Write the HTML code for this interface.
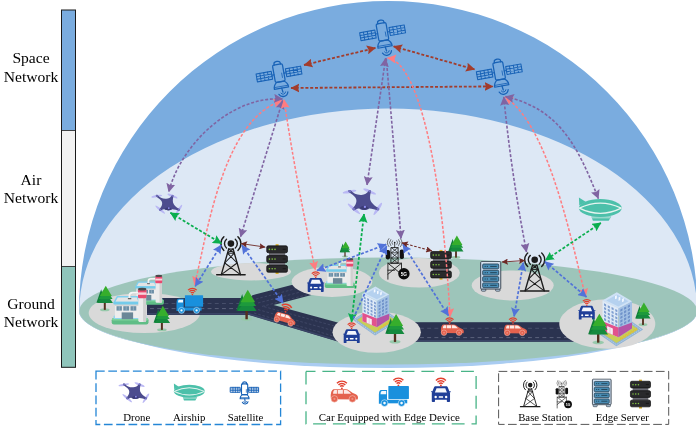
<!DOCTYPE html>
<html>
<head>
<meta charset="utf-8">
<title>Space-Air-Ground Integrated Network</title>
<style>
html,body{margin:0;padding:0;background:#fff;}
body{width:696px;height:429px;overflow:hidden;position:relative;font-family:"Liberation Serif",serif;}
svg{position:absolute;left:0;top:0;display:block;will-change:transform;}
text{font-family:"Liberation Serif",serif;fill:#000;}
.lbl{font-size:15.6px;text-anchor:middle;}
.leg{font-size:10.8px;text-anchor:middle;}
</style>
</head>
<body>
<svg width="696" height="429" viewBox="0 0 696 429">
<defs>
<!-- arrow heads -->
<marker id="ah-r" viewBox="0 0 10 10" refX="9.4" refY="5" markerWidth="9" markerHeight="9.2" markerUnits="userSpaceOnUse" orient="auto-start-reverse"><path d="M0,0 L10,5 L0,10 L1.6,5 Z" fill="#a23c2c"/></marker>
<marker id="ah-p" viewBox="0 0 10 10" refX="9.4" refY="5" markerWidth="9" markerHeight="9.2" markerUnits="userSpaceOnUse" orient="auto-start-reverse"><path d="M0,0 L10,5 L0,10 L1.6,5 Z" fill="#8064a2"/></marker>
<marker id="ah-k" viewBox="0 0 10 10" refX="9.4" refY="5" markerWidth="9" markerHeight="9.2" markerUnits="userSpaceOnUse" orient="auto-start-reverse"><path d="M0,0 L10,5 L0,10 L1.6,5 Z" fill="#ff7c80"/></marker>
<marker id="ah-g" viewBox="0 0 10 10" refX="9.4" refY="5" markerWidth="9" markerHeight="9.2" markerUnits="userSpaceOnUse" orient="auto-start-reverse"><path d="M0,0 L10,5 L0,10 L1.6,5 Z" fill="#0aae4e"/></marker>
<marker id="ah-b" viewBox="0 0 10 10" refX="9.4" refY="5" markerWidth="9" markerHeight="9.2" markerUnits="userSpaceOnUse" orient="auto-start-reverse"><path d="M0,0 L10,5 L0,10 L1.6,5 Z" fill="#5172d9"/></marker>
<marker id="ah-d" viewBox="0 0 10 10" refX="9.4" refY="5" markerWidth="6.8" markerHeight="6.2" markerUnits="userSpaceOnUse" orient="auto-start-reverse"><path d="M0,0 L10,5 L0,10 L1.6,5 Z" fill="#6e2a26"/></marker>

<!-- satellite : origin = body centre -->
<g id="sat" fill="none" stroke="#1862b6" stroke-width="1.25" stroke-linejoin="round" stroke-linecap="round">
  <path d="M-3.2,-10.2 V-11.4 Q-3.2,-13.4 0,-13.4 Q3.2,-13.4 3.2,-11.4 V-10.2"/>
  <rect x="-5" y="-10.2" width="10" height="17.4" rx="1.4"/>
  <line x1="2.8" y1="-1" x2="2.8" y2="3.4" stroke-width="0.8"/>
  <g stroke-width="1.05">
    <rect x="-22.6" y="-4.6" width="15.4" height="8"/>
    <path d="M-18.8,-4.6v8M-14.9,-4.6v8M-11,-4.6v8M-22.6,-1.9h15.4M-22.6,0.7h15.4" stroke-width="0.95"/>
    <line x1="-7.2" y1="-0.6" x2="-5" y2="-0.6"/>
    <rect x="7.2" y="-4.6" width="15.4" height="8"/>
    <path d="M11,-4.6v8M14.9,-4.6v8M18.8,-4.6v8M7.2,-1.9h15.4M7.2,0.7h15.4" stroke-width="0.95"/>
    <line x1="5" y1="-0.6" x2="7.2" y2="-0.6"/>
  </g>
  <path d="M-3.8,7.2 C-6,8.8 -7.2,11.2 -7.2,13.8 L7.2,13.8 C7.2,11.2 6,8.8 3.8,7.2 Z"/>
  <line x1="-7" y1="12" x2="7" y2="12" stroke-width="0.8"/>
  <line x1="0.2" y1="13.8" x2="0.8" y2="18"/>
  <path d="M-1.4,18.6 A2.6,2.6 0 0 0 3.4,18.2" stroke-width="0.9"/>
  <path d="M-3.6,19.4 A4.9,4.9 0 0 0 5.6,18.6" stroke-width="1.25"/>
</g>
<g id="sat-s" fill="none" stroke="#1862b6" stroke-width="1.81" stroke-linejoin="round" stroke-linecap="round">
  <path d="M-3.2,-10.2 V-11.4 Q-3.2,-13.4 0,-13.4 Q3.2,-13.4 3.2,-11.4 V-10.2"/>
  <rect x="-5" y="-10.2" width="10" height="17.4" rx="1.4"/>
  <line x1="2.8" y1="-1" x2="2.8" y2="3.4" stroke-width="1.16"/>
  <g stroke-width="1.52">
    <rect x="-22.6" y="-4.6" width="15.4" height="8"/>
    <path d="M-18.8,-4.6v8M-14.9,-4.6v8M-11,-4.6v8M-22.6,-1.9h15.4M-22.6,0.7h15.4" stroke-width="1.38"/>
    <line x1="-7.2" y1="-0.6" x2="-5" y2="-0.6"/>
    <rect x="7.2" y="-4.6" width="15.4" height="8"/>
    <path d="M11,-4.6v8M14.9,-4.6v8M18.8,-4.6v8M7.2,-1.9h15.4M7.2,0.7h15.4" stroke-width="1.38"/>
    <line x1="5" y1="-0.6" x2="7.2" y2="-0.6"/>
  </g>
  <path d="M-3.8,7.2 C-6,8.8 -7.2,11.2 -7.2,13.8 L7.2,13.8 C7.2,11.2 6,8.8 3.8,7.2 Z"/>
  <line x1="-7" y1="12" x2="7" y2="12" stroke-width="1.16"/>
  <line x1="0.2" y1="13.8" x2="0.8" y2="18"/>
  <path d="M-1.4,18.6 A2.6,2.6 0 0 0 3.4,18.2" stroke-width="1.30"/>
  <path d="M-3.6,19.4 A4.9,4.9 0 0 0 5.6,18.6" stroke-width="1.81"/>
</g>

<!-- drone : origin = centre -->
<g id="drone">
  <g fill="#b7b4f4" opacity="0.92">
    <ellipse cx="-14.4" cy="-10" rx="7" ry="1.45" transform="rotate(-10 -14.4 -10)"/>
    <ellipse cx="5.7" cy="-10.2" rx="7" ry="1.45" transform="rotate(23 5.7 -10.2)"/>
    <ellipse cx="-10" cy="7.2" rx="8" ry="1.5" transform="rotate(40 -10 7.2)"/>
    <ellipse cx="13.9" cy="7.2" rx="7.4" ry="1.5" transform="rotate(-56 13.9 7.2)"/>
  </g>
  <path fill="#4c4c8e" d="M-15.6,-10.6 C-15.8,-11.9 -13.8,-12.1 -13,-11.1 C-10.6,-8.2 -7.4,-6.6 -2.4,-6.8 C0.8,-6.8 3.2,-8.2 4.6,-10.6 C5.2,-12 7.2,-11.8 7,-10.2 C6.2,-6.4 5.4,-2.6 7.6,0.6 C9.4,3.2 12.4,5.2 14.6,6.2 C16,7 15.4,8.8 13.8,8.6 C11,8.2 8,6.6 5,6.8 C4,8.6 -2,9 -4.6,6.8 C-6.4,6.4 -8,7.6 -9.2,8.4 C-10.6,9.2 -11.8,8 -11,6.6 C-8.2,3.4 -6.2,-0.6 -8.4,-4 C-9.8,-6 -12.6,-8 -14.8,-9.4 C-15.4,-9.8 -15.6,-10.2 -15.6,-10.6 Z"/>
  <circle cx="-14.2" cy="-10.4" r="1.2" fill="#7876c4"/>
  <circle cx="5.8" cy="-10.6" r="1.2" fill="#7876c4"/>
  <circle cx="-10.2" cy="7.4" r="1.3" fill="#7876c4"/>
  <circle cx="14" cy="7.4" r="1.3" fill="#7876c4"/>
  <path d="M-4.4,6.4 Q0.4,1.6 5,6.6 Q0.4,9.4 -4.4,6.4Z" fill="#3b3b76"/>
  <circle cx="1" cy="5.2" r="1.15" fill="#8f8df0"/>
</g>

<!-- airship : origin = envelope centre -->
<g id="airship">
  <path d="M-21.4,-10.6 L-14.6,-6.2 L-21,-2.6 Z" fill="#4cc0aa"/>
  <ellipse cx="0" cy="0" rx="21.4" ry="9" fill="#4cc0aa"/>
  <path d="M-21,0.2 Q0,-10 21,0.2" fill="none" stroke="#e6f4f0" stroke-width="1.4"/>
  <path d="M-21,0.2 Q0,10.6 21,0.2" fill="none" stroke="#e6f4f0" stroke-width="1.4"/>
  <path d="M-9,8.4 L11,8.4 L8.4,12.8 L-7.4,12.8 Z" fill="#4cc0aa"/>
  <path d="M-8.6,9.8 H10.2" stroke="#e6f4f0" stroke-width="0.7" fill="none"/>
</g>

<!-- base station tower : origin = base centre -->
<g id="tower" fill="none" stroke="#1c1c1c" stroke-linecap="round" stroke-linejoin="round">
  <circle cx="0" cy="-31" r="3.3" fill="#1c1c1c" stroke="none"/>
  <path d="M-4.4,-35.4 A5.8,5.8 0 0 0 -4.4,-26.6" stroke-width="1.4"/>
  <path d="M4.4,-35.4 A5.8,5.8 0 0 1 4.4,-26.6" stroke-width="1.4"/>
  <path d="M-7,-37.8 A9.2,9.2 0 0 0 -7,-24.2" stroke-width="1.4"/>
  <path d="M7,-37.8 A9.2,9.2 0 0 1 7,-24.2" stroke-width="1.4"/>
  <path d="M-2.2,-25.6 L-9.6,0 M2.2,-25.6 L9.6,0" stroke-width="1.35"/>
  <path d="M-2.2,-25.6 L2.2,-25.6 M-3.4,-21.4 L3.4,-21.4" stroke-width="1"/>
  <path d="M-3.4,-21.4 L6.2,-11.6 M3.4,-21.4 L-6.2,-11.6 M-6.2,-11.6 L9.6,0 M6.2,-11.6 L-9.6,0 M-2.2,-25.6 L3.4,-21.4 M2.2,-25.6 L-3.4,-21.4" stroke-width="1.05"/>
  <line x1="-14.2" y1="0.2" x2="14.2" y2="0.2" stroke-width="1.5"/>
</g>

<!-- 5G tower : origin = mast centre / bottom -->
<g id="tower5g" fill="none" stroke="#1c1c1c" stroke-linecap="round" stroke-linejoin="round">
  <line x1="0" y1="-36" x2="0" y2="-31.6" stroke-width="0.8"/>
  <circle cx="0" cy="-36.6" r="0.8" fill="#1c1c1c" stroke="none"/>
  <path d="M-2.2,-38.4 A2.8,2.8 0 0 0 -2.2,-34.8 M2.2,-38.4 A2.8,2.8 0 0 1 2.2,-34.8" stroke-width="0.6"/>
  <path d="M-4,-39.6 A4.6,4.6 0 0 0 -4,-33.6 M4,-39.6 A4.6,4.6 0 0 1 4,-33.6" stroke-width="0.6"/>
  <path d="M-5.8,-40.6 A6.4,6.4 0 0 0 -5.8,-32.6 M5.8,-40.6 A6.4,6.4 0 0 1 5.8,-32.6" stroke-width="0.6"/>
  <rect x="-3.4" y="-31.6" width="6.8" height="15.6" stroke-width="0.9"/>
  <path d="M-3.4,-31.6 L3.4,-26.4 L-3.4,-21.2 L3.4,-16 M3.4,-31.6 L-3.4,-26.4 L3.4,-21.2 L-3.4,-16 M-3.4,-26.4 H3.4 M-3.4,-21.2 H3.4" stroke-width="0.75"/>
  <rect x="-9" y="-29.2" width="4.4" height="9.4" rx="1.8" fill="#111" stroke="none"/>
  <rect x="5" y="-29.6" width="4.2" height="9.4" rx="1.8" fill="#111" stroke="none"/>
  <path d="M-6.8,0 V-16 H6.8 V-8 M-6.8,-16 L6.8,-5 M6.8,-16 L-6.8,-5 M-6.8,-9 H0" stroke-width="0.9"/>
  <circle cx="9.2" cy="-5.4" r="5.7" fill="#0d0d0d" stroke="none"/>
</g>

<!-- black edge server : origin = top-left, 21.4 x 27.2 -->
<g id="srvk">
  <rect x="9.2" y="-1.3" width="3" height="2" fill="#d6ad28"/>
  <rect x="9.2" y="26.5" width="3" height="2" fill="#d6ad28"/>
  <rect x="2.6" y="7" width="16.2" height="13" fill="#6b6b73"/>
  <g fill="#2a2a2c" stroke="#0c0c0c" stroke-width="0.7">
    <rect x="0.35" y="0.35" width="20.7" height="6.9" rx="1.5"/>
    <rect x="0.35" y="10.1" width="20.7" height="6.9" rx="1.5"/>
    <rect x="0.35" y="19.85" width="20.7" height="6.9" rx="1.5"/>
  </g>
  <g fill="#80c342">
    <circle cx="3" cy="3.9" r="0.8"/><circle cx="5.8" cy="3.9" r="0.8"/><circle cx="8.6" cy="3.9" r="0.8"/>
    <circle cx="3" cy="13.6" r="0.8"/><circle cx="5.8" cy="13.6" r="0.8"/><circle cx="8.6" cy="13.6" r="0.8"/>
    <circle cx="3" cy="23.3" r="0.8"/><circle cx="5.8" cy="23.3" r="0.8"/><circle cx="8.6" cy="23.3" r="0.8"/>
  </g>
  <path d="M16.2,3.8h3.2M16.2,13.5h3.2M16.2,23.2h3.2" stroke="#141414" stroke-width="0.8" fill="none"/>
</g>

<!-- blue edge server : origin = top-left, 21.2 x 30.3 -->
<g id="srvb">
  <rect x="1.2" y="27.6" width="4.4" height="2.4" rx="0.8" fill="#b7cde0" stroke="#2f3a46" stroke-width="0.7"/>
  <rect x="15.4" y="27.6" width="4.4" height="2.4" rx="0.8" fill="#b7cde0" stroke="#2f3a46" stroke-width="0.7"/>
  <rect x="0.45" y="0.45" width="20.1" height="27.4" rx="0.8" fill="#c8dbed" stroke="#2f3a46" stroke-width="0.9"/>
  <path d="M1.6,1.5 H19.4" stroke="#f2f8fd" stroke-width="0.7" fill="none"/>
  <g fill="#4a8eb6" stroke="#1f3a4c" stroke-width="0.8">
    <rect x="2.5" y="2.8" width="16" height="4.8" rx="1"/>
    <rect x="2.5" y="9.1" width="16" height="4.8" rx="1"/>
    <rect x="2.5" y="15.4" width="16" height="4.8" rx="1"/>
    <rect x="2.5" y="21.7" width="16" height="4.8" rx="1"/>
  </g>
  <path d="M4.4,5.2h1.2M6.6,5.2h1.2M10,5.2h6.6M4.4,11.5h1.2M6.6,11.5h1.2M10,11.5h6.6M4.4,17.8h1.2M6.6,17.8h1.2M10,17.8h6.6M4.4,24.1h1.2M6.6,24.1h1.2M10,24.1h6.6" stroke="#17303f" stroke-width="0.8" fill="none"/>
</g>

<!-- wifi : origin = dot -->
<g id="wifi" fill="none" stroke="#e23f2e" stroke-width="1.15" stroke-linecap="butt">
  <circle cx="0" cy="-0.2" r="0.75" fill="#e23f2e" stroke="none"/>
  <path d="M-1.45,-1.6 A2,2 0 0 1 1.45,-1.6"/>
  <path d="M-2.7,-2.9 A3.7,3.7 0 0 1 2.7,-2.9"/>
  <path d="M-3.95,-4.2 A5.4,5.4 0 0 1 3.95,-4.2"/>
</g>

<!-- red side car : origin = centre, 23.4 x 12.3 -->
<g id="carr">
  <path fill="#e4624e" d="M-11.1,3.5 C-11.5,1.5 -11.5,-0.5 -11.2,-1.5 C-11,-3 -10.4,-4.4 -9.2,-5 L1.4,-5 C3.2,-5 5,-3.4 6.8,-2 L10,-0.6 C11.2,0 11.6,1.2 11.5,2.4 L11.2,3.6 Z"/>
  <path fill="#fdeae6" d="M-9.4,-1.3 C-9.4,-2.8 -9,-4 -8.2,-4.3 L-6.2,-4.3 L-6.2,-1.3 Z M-5.5,-4.3 L-1.2,-4.3 L-1.2,-1.3 L-5.5,-1.3 Z M-0.4,-4.3 L1.4,-4.3 C2.8,-4.2 4.4,-2.8 5.7,-1.3 L-0.4,-1.3 Z"/>
  <circle cx="-8.3" cy="3.1" r="2.75" fill="#e4624e" stroke="#f7cfc7" stroke-width="0.45"/>
  <circle cx="6.8" cy="3.1" r="2.75" fill="#e4624e" stroke="#f7cfc7" stroke-width="0.45"/>
  <circle cx="-8.3" cy="3.1" r="0.9" fill="#ee8d7e"/>
  <circle cx="6.8" cy="3.1" r="0.9" fill="#ee8d7e"/>
</g>

<!-- truck : origin = top-left of bounding box, 27 x 18.6 -->
<g id="truck">
  <rect x="8.9" y="0.3" width="18.2" height="11.5" rx="0.4" fill="#1990dd"/>
  <path fill="#1990dd" d="M2.6,3.7 H7.7 V16 H0.5 V8 C0.5,5.4 1.2,3.7 2.6,3.7 Z"/>
  <path fill="#f3f9fe" d="M3,4.7 H7 V7.5 H2 C2,6 2.4,5 3,4.7 Z"/>
  <path fill="#1990dd" d="M7.6,12.4 H25.6 V15.6 H7.6 Z"/>
  <circle cx="5.5" cy="15.4" r="3" fill="#1990dd" stroke="#ffffff" stroke-width="0.45"/>
  <circle cx="20.6" cy="15.4" r="3" fill="#1990dd" stroke="#ffffff" stroke-width="0.45"/>
  <circle cx="5.5" cy="15.4" r="1.15" fill="#f3f9fe"/>
  <circle cx="20.6" cy="15.4" r="1.15" fill="#f3f9fe"/>
</g>

<!-- blue front car : origin = top-left, 17.2 x 14 -->
<g id="carb">
  <path fill="#1f3e98" d="M3.9,0 H13.3 C14,0 14.4,0.4 14.6,1 L16,4.5 H17.2 V5.4 H16.3 L16.6,6.2 V13.2 C16.6,13.7 16.3,13.9 15.9,13.9 H14.4 C14,13.9 13.8,13.6 13.8,13.2 V11.9 H3.4 V13.2 C3.4,13.6 3.2,13.9 2.8,13.9 H1.3 C0.9,13.9 0.6,13.7 0.6,13.2 V6.2 L0.9,5.4 H0 V4.5 H1.2 L2.6,1 C2.8,0.4 3.2,0 3.9,0 Z"/>
  <path fill="#f4f6fc" d="M4.8,1.7 H12.4 L13.9,5.6 H3.3 Z"/>
  <circle cx="4" cy="9.5" r="1.05" fill="#fff"/>
  <circle cx="13.2" cy="9.5" r="1.05" fill="#fff"/>
  <rect x="6.7" y="8.8" width="3.8" height="1.4" rx="0.3" fill="#fff"/>
</g>

<!-- tree : origin = trunk bottom centre, approx 16 x 26 -->
<g id="tree">
  <ellipse cx="0" cy="0.2" rx="5" ry="1.6" fill="#97c9ab"/>
  <rect x="-1.05" y="-8" width="2.1" height="8.4" fill="#54301f"/>
  <path d="M-3.8,-21.4 L-8.8,-7 H0 Z" fill="#0f7d38"/>
  <path d="M1,-18 L-7.8,-6.8 H8.6 Z" fill="#158a3e"/>
  <path d="M1,-22 L-6.6,-11 H8.2 Z" fill="#1d9a3c"/>
  <path d="M1,-25 L-5.2,-14.2 H7.4 Z" fill="#36ae2c"/>
</g>

<!-- factory : origin = base left-bottom, approx 36 x 36 -->
<g id="factory">
  <rect x="0.2" y="-6.4" width="36.8" height="6.4" rx="2.2" fill="#5fbd86"/>
  <rect x="0.6" y="-6.4" width="36" height="2.4" rx="1.2" fill="#7fd39c"/>
  <rect x="2" y="-8.8" width="33" height="3.4" rx="1.2" fill="#8fd6ee"/>
  <rect x="3.4" y="-21.4" width="24.6" height="15" fill="#ededed"/>
  <rect x="3.4" y="-21.4" width="24.6" height="3" fill="#d4d4d4"/>
  <path d="M2.6,-21.8 L5.8,-27.6 H25.8 L28,-21.8 Z" fill="#e4e4e4" stroke="#80d0ee" stroke-width="1.5" stroke-linejoin="round"/>
  <rect x="1.9" y="-22.6" width="26.8" height="2.8" rx="0.8" fill="#74cbea"/>
  <g fill="#6d8fa6">
    <rect x="5" y="-18.2" width="5.4" height="4.4"/><rect x="11.8" y="-18.2" width="5.8" height="4.4"/><rect x="19" y="-18.2" width="5.8" height="4.4"/>
  </g>
  <path d="M7.7,-18.2v4.4M14.7,-18.2v4.4M21.9,-18.2v4.4" stroke="#a9c3d3" stroke-width="0.6"/>
  <rect x="10.2" y="-12" width="11.4" height="6.8" fill="#6b8797"/>
  <path d="M18,-25.6 V-29 Q18,-31.6 21,-31.6 H27" fill="none" stroke="#f6f6f6" stroke-width="1.9"/>
  <path d="M18,-25.6 V-29 Q18,-31.6 21,-31.6 H27" fill="none" stroke="#cfcfcf" stroke-width="0.5" transform="translate(0.9 0.9)"/>
  <rect x="16.4" y="-26.2" width="3.4" height="1" fill="#444"/>
  <rect x="26.8" y="-34.6" width="7.8" height="32.2" rx="1.4" fill="#ebebeb"/>
  <rect x="31.6" y="-34.6" width="3" height="32.2" rx="1" fill="#d0d0d0"/>
  <rect x="26.5" y="-35.2" width="8.4" height="9" rx="1.2" fill="#e9496f"/>
  <rect x="26.5" y="-32" width="8.4" height="2.4" fill="#f9d3db"/>
  <ellipse cx="30.7" cy="-35.2" rx="4.2" ry="1.4" fill="#4a4a4a"/>
</g>

<!-- office building : origin = roof top corner, approx 39 wide x 50 tall -->
<g id="bldg">
  <path d="M-22.7,33.4 L1.7,18.2 L24,33.8 L-0.4,49 Z" fill="#8fb3d6"/>
  <path d="M-20.6,33.4 L1.7,19.6 L21.8,33.8 L-0.4,47.6 Z" fill="none" stroke="#d7e4f0" stroke-width="0.6" stroke-dasharray="1.2 1"/>
  <path d="M-18.4,33.5 L1.7,21 L19.6,33.8 L-0.4,46.2 Z" fill="#c8ce58"/>
  <path d="M-13,7.4 L1.4,14.6 L1.4,40.9 L-13,34.8 Z" fill="#dfeaf7"/>
  <path d="M1.4,14.6 L13.8,8.2 L13.8,32.8 L1.4,40.9 Z" fill="#a3c1e4"/>
  <path d="M-13,26.4 L1.4,32.1 L1.4,40.9 L-13,34.8 Z" fill="#e2528c"/>
  <path d="M1.4,32.1 L13.8,27.4 L13.8,32.8 L1.4,40.9 Z" fill="#b554a6"/>
  <path d="M-8.8,30.6 L-3.6,32.8 L-3.6,38.6 L-8.8,36.4 Z" fill="#f6ecf3"/>
  <path d="M-6.2,31.7 L-6.2,37.5" stroke="#d9a9c6" stroke-width="0.5"/>
  <path d="M0,0 L13.8,8.2 L1.4,14.6 L-13,7.4 Z" fill="#cfe2f6"/>
  <path d="M0.2,2 L10.6,8.2 L1.4,12.8 L-9.6,7.4 Z" fill="#b5d1ef"/>
  <path d="M-1.6,6.4 L-1.6,3.4 L0,2.6 L0,5.6 Z M1.6,7.8 L1.6,4.8 L3.2,4 L3.2,7 Z M4.8,9 L4.8,6 L6.4,5.2 L6.4,8.2 Z" fill="#f4f9ff"/>
  <path d="M-11.6,10.0 L-9.7,11.0 L-9.7,13.1 L-11.6,12.1 Z M-11.6,13.3 L-9.7,14.2 L-9.7,16.4 L-11.6,15.4 Z M-11.6,16.6 L-9.7,17.6 L-9.7,19.7 L-11.6,18.7 Z M-11.6,19.9 L-9.7,20.8 L-9.7,22.9 L-11.6,22.0 Z M-11.6,23.2 L-9.7,24.2 L-9.7,26.3 L-11.6,25.3 Z M-8.2,11.7 L-6.3,12.7 L-6.3,14.8 L-8.2,13.8 Z M-8.2,15.0 L-6.3,15.9 L-6.3,18.1 L-8.2,17.1 Z M-8.2,18.3 L-6.3,19.2 L-6.3,21.4 L-8.2,20.4 Z M-8.2,21.6 L-6.3,22.6 L-6.3,24.7 L-8.2,23.7 Z M-8.2,24.9 L-6.3,25.8 L-6.3,27.9 L-8.2,27.0 Z M-4.8,13.4 L-2.9,14.3 L-2.9,16.4 L-4.8,15.5 Z M-4.8,16.7 L-2.9,17.6 L-2.9,19.8 L-4.8,18.8 Z M-4.8,20.0 L-2.9,20.9 L-2.9,23.1 L-4.8,22.1 Z M-4.8,23.3 L-2.9,24.2 L-2.9,26.3 L-4.8,25.4 Z M-4.8,26.6 L-2.9,27.6 L-2.9,29.7 L-4.8,28.7 Z M-1.4,15.1 L0.5,16.1 L0.5,18.2 L-1.4,17.2 Z M-1.4,18.4 L0.5,19.3 L0.5,21.4 L-1.4,20.5 Z M-1.4,21.7 L0.5,22.6 L0.5,24.8 L-1.4,23.8 Z M-1.4,25.0 L0.5,25.9 L0.5,28.1 L-1.4,27.1 Z M-1.4,28.3 L0.5,29.2 L0.5,31.3 L-1.4,30.4 Z" fill="#7d9dd0"/>
  <path d="M3.2,15.6 L5.2,14.5 L5.2,16.6 L3.2,17.7 Z M3.2,18.9 L5.2,17.8 L5.2,19.9 L3.2,21.0 Z M3.2,22.2 L5.2,21.1 L5.2,23.2 L3.2,24.3 Z M3.2,25.5 L5.2,24.4 L5.2,26.5 L3.2,27.6 Z M3.2,28.8 L5.2,27.7 L5.2,29.8 L3.2,30.9 Z M6.6,13.8 L8.6,12.8 L8.6,14.9 L6.6,15.9 Z M6.6,17.1 L8.6,16.1 L8.6,18.2 L6.6,19.2 Z M6.6,20.4 L8.6,19.4 L8.6,21.5 L6.6,22.5 Z M6.6,23.7 L8.6,22.7 L8.6,24.8 L6.6,25.8 Z M6.6,27.0 L8.6,26.0 L8.6,28.1 L6.6,29.1 Z M10.0,12.1 L12.0,11.0 L12.0,13.1 L10.0,14.2 Z M10.0,15.4 L12.0,14.3 L12.0,16.4 L10.0,17.5 Z M10.0,18.7 L12.0,17.6 L12.0,19.7 L10.0,20.8 Z M10.0,22.0 L12.0,20.9 L12.0,23.0 L10.0,24.1 Z M10.0,25.3 L12.0,24.2 L12.0,26.3 L10.0,27.4 Z" fill="#6f92ca"/>
  <path d="M2.6,44 l1.2,-3 l1.2,1.5 l1.2,-3 l1.2,1.5 l1.2,-3 l1.2,1.5 l1.2,-3 l1.2,1.5 l1.2,-3 l1.2,1.5 l1.2,-3 l1.2,1.5 l1.2,-3" stroke="#e3bb34" stroke-width="0.8" fill="none"/>
</g>

</defs>

<!-- ===== side bar ===== -->
<g id="sidebar">
  <rect x="61.5" y="10" width="14" height="120.5" fill="#7aacdf"/>
  <rect x="61.5" y="130.5" width="14" height="136" fill="#f2f2f2"/>
  <rect x="61.5" y="266.5" width="14" height="100.8" fill="#8fc5bb"/>
  <rect x="61.5" y="10" width="14" height="357.3" fill="none" stroke="#1a1a1a" stroke-width="1"/>
  <line x1="61.5" y1="130.5" x2="75.5" y2="130.5" stroke="#1a1a1a" stroke-width="0.8"/>
  <line x1="61.5" y1="266.5" x2="75.5" y2="266.5" stroke="#1a1a1a" stroke-width="0.8"/>
</g>
<text class="lbl" x="31" y="63.3">Space</text>
<text class="lbl" x="31" y="81.6">Network</text>
<text class="lbl" x="31" y="185">Air</text>
<text class="lbl" x="31" y="202.9">Network</text>
<text class="lbl" x="31" y="308.7">Ground</text>
<text class="lbl" x="31" y="327.1">Network</text>

<!-- ===== dome ===== -->
<g id="dome">
  <path d="M79,311 A309.25,310 0 0 1 697.5,311 A309.25,54 0 0 1 79,311 Z" fill="#7aacdf"/>
  <path d="M79.3,311 A308.95,202.5 0 0 1 697.2,311 A308.95,54.2 0 0 1 79.3,311 Z" fill="#dde8f5"/>
  <path d="M88.25,311 A300,57 0 0 0 688.25,311 Z" fill="#a9ccf1"/>
  <ellipse cx="388.25" cy="311" rx="308.9" ry="53.6" fill="#9dc5ba"/>
</g>

<!-- ===== ground ===== -->
<g id="islands-back"><ellipse cx="144.4" cy="313" rx="55.7" ry="20" fill="#d9d9d9"/></g>

<g id="roads">
  <path d="M147,298 L250,298 L252.4,295.2 L291.6,285 L324,283 L324,291.8 L273.6,305 L345,324.4 L341,342.6 L249,314.9 L147,314.9 Z" fill="#2b3350"/>
  <rect x="404" y="322.2" width="182" height="19.6" fill="#2b3350"/>
  <path d="M147,313.9 H249 L341,341.6 M404,340.8 H586" stroke="#3a4466" stroke-width="1.6" fill="none"/>
  <g fill="none" stroke-width="0.55" stroke-dasharray="3.9 3.3">
    <path d="M150,303.5 H250 M420,328.3 H586" stroke="#5d6580"/>
    <path d="M150,308.6 H250 M420,337.6 H586" stroke="#8289a2"/>
    <path d="M256,299 L300,287.6 M258,303 L306,290.6 M262,306.4 L310,294" stroke-dasharray="2.6 1.8" stroke="#4f5775"/>
    <path d="M264,306.6 L340,327.6 M258,309.6 L340,332.6 M254,313 L340,338" stroke-dasharray="2.6 1.8" stroke="#4f5775"/>
  </g>
</g>
<g id="islands"><ellipse cx="251" cy="271.7" rx="40" ry="8.7" fill="#d9d9d9"/><ellipse cx="332" cy="281.8" rx="40.4" ry="15.1" fill="#d9d9d9"/><ellipse cx="419.3" cy="272.8" rx="40.5" ry="14.8" fill="#d9d9d9"/><ellipse cx="512.7" cy="285.5" rx="41" ry="15" fill="#d9d9d9"/><ellipse cx="376.7" cy="332.2" rx="44.2" ry="20.6" fill="#d9d9d9"/><ellipse cx="607.3" cy="324" rx="48" ry="24.7" fill="#d9d9d9"/></g>

<!-- ===== icons ===== -->
<g id="icons">
<use href="#tree" transform="translate(345 256.4) scale(0.6)"/>
<use href="#tree" transform="translate(456 257.3) scale(0.87)"/>
<use href="#tree" transform="translate(104.8 309.5) scale(0.95)"/>
<use href="#factory" transform="translate(133.6 304.8) scale(0.82)"/>
<use href="#factory" transform="translate(111.5 324.4)"/>
<use href="#tree" transform="translate(161.9 329.5) scale(0.95)"/>
<use href="#factory" transform="translate(324.6 288) scale(0.82)"/>
<use href="#tower" transform="translate(230.9 274.6)"/>
<use href="#srvk" transform="translate(266.4 245.5)"/>
<use href="#tower5g" transform="translate(394.7 279.2)"/>
<use href="#srvk" transform="translate(430.3 251.2)"/>
<use href="#srvb" transform="translate(480.2 261.2)"/>
<use href="#tower" transform="translate(534.7 290.8)"/>
<use href="#truck" transform="translate(176 295)"/>
<use href="#wifi" transform="translate(192.4 294.8) scale(1.1)"/>
<use href="#tree" transform="translate(246.6 318.8) scale(1.16)"/>
<use href="#carr" transform="translate(285.2 318.8) rotate(16) scale(0.96)"/>
<use href="#wifi" transform="translate(285.4 312) rotate(14) scale(1.3)"/>
<use href="#carb" transform="translate(307.1 278.1)"/>
<use href="#wifi" transform="translate(315.7 277.8)"/>
<use href="#bldg" transform="translate(375.4 286.4)"/>
<use href="#carb" transform="translate(343.1 329.2)"/>
<use href="#wifi" transform="translate(351.6 328.8)"/>
<use href="#tree" transform="translate(395 341.5) scale(1.1)"/>
<use href="#carr" transform="translate(452.3 329.6)"/>
<use href="#wifi" transform="translate(449.6 323.8)"/>
<use href="#carr" transform="translate(515.5 329.8)"/>
<use href="#wifi" transform="translate(513 323.8)"/>
<use href="#tree" transform="translate(643 324.6) scale(0.88)"/>
<use href="#bldg" transform="translate(616.8 292.3) scale(1.1)"/>
<use href="#carb" transform="translate(578.2 305.7)"/>
<use href="#wifi" transform="translate(586.8 305.4)"/>
<use href="#tree" transform="translate(598.2 342.2) scale(1.14)"/>
<use href="#sat" transform="translate(279.1 74.6) rotate(-10)"/>
<use href="#sat" transform="translate(382.7 33.4) rotate(-10)"/>
<use href="#sat" transform="translate(499.4 72.4) rotate(-10)"/>
<use href="#drone" transform="translate(168 204) scale(0.78)"/>
<use href="#drone" transform="translate(363.9 201.7)"/>
<use href="#airship" transform="translate(600.3 208)"/>
</g>

<text x="403.9" y="275.5" text-anchor="middle" style="font-family:'Liberation Sans',sans-serif;font-weight:bold;font-size:4.8px;fill:#fff;">5G</text>

<!-- ===== links ===== -->
<g id="links" fill="none">
<path d="M304,65 L375.4,48" stroke="#a23c2c" stroke-width="1.8" stroke-dasharray="3 1.8" marker-start="url(#ah-r)" marker-end="url(#ah-r)"/>
<path d="M393.6,46.4 L474.5,69.4" stroke="#a23c2c" stroke-width="1.8" stroke-dasharray="3 1.8" marker-start="url(#ah-r)" marker-end="url(#ah-r)"/>
<path d="M291,88 L493,86.4" stroke="#a23c2c" stroke-width="1.8" stroke-dasharray="3 1.8" marker-start="url(#ah-r)" marker-end="url(#ah-r)"/>
<path d="M504.8,96.6 C545,124 566,215 585.5,297" stroke="#ff7c80" stroke-width="1.5" stroke-dasharray="3 1.8" marker-start="url(#ah-k)" marker-end="url(#ah-k)"/>
<path d="M282,100.6 C222,120 207,236 194.5,285" stroke="#ff7c80" stroke-width="1.5" stroke-dasharray="3 1.8" marker-start="url(#ah-k)" marker-end="url(#ah-k)"/>
<path d="M282.6,100.6 L240.5,237" stroke="#8064a2" stroke-width="1.6" stroke-dasharray="3 1.8" marker-start="url(#ah-p)" marker-end="url(#ah-p)"/>
<path d="M282.5,99 C231.3,95.3 180,145.7 168.8,192" stroke="#8064a2" stroke-width="1.6" stroke-dasharray="3 1.8" marker-start="url(#ah-p)" marker-end="url(#ah-p)"/>
<path d="M385.6,58.4 L367,185" stroke="#8064a2" stroke-width="1.6" stroke-dasharray="3 1.8" marker-start="url(#ah-p)" marker-end="url(#ah-p)"/>
<path d="M386.2,58.4 Q394.4,150 401,238.4" stroke="#8064a2" stroke-width="1.6" stroke-dasharray="3 1.8" marker-end="url(#ah-p)"/>
<path d="M503.8,97 Q511,172 526.5,252" stroke="#8064a2" stroke-width="1.6" stroke-dasharray="3 1.8" marker-start="url(#ah-p)" marker-end="url(#ah-p)"/>
<path d="M505.4,96.6 C560,109 578,147 598.4,198.6" stroke="#8064a2" stroke-width="1.6" stroke-dasharray="3 1.8" marker-start="url(#ah-p)" marker-end="url(#ah-p)"/>
<path d="M284,99.8 Q296,180 315.3,270" stroke="#ff7c80" stroke-width="1.5" stroke-dasharray="3 1.8" marker-start="url(#ah-k)" marker-end="url(#ah-k)"/>
<path d="M387.6,58 C420,62 443,180 450,317" stroke="#ff7c80" stroke-width="1.5" stroke-dasharray="3 1.8" marker-start="url(#ah-k)" marker-end="url(#ah-k)"/>
<path d="M170.4,212.8 L221.3,243.4" stroke="#0aae4e" stroke-width="1.75" stroke-dasharray="3 1.8" marker-start="url(#ah-g)" marker-end="url(#ah-g)"/>
<path d="M364,214 L351.5,322" stroke="#0aae4e" stroke-width="1.75" stroke-dasharray="3 1.8" marker-start="url(#ah-g)" marker-end="url(#ah-g)"/>
<path d="M600.9,222.9 L545.4,260.2" stroke="#0aae4e" stroke-width="1.75" stroke-dasharray="3 1.8" marker-start="url(#ah-g)" marker-end="url(#ah-g)"/>
<path d="M221.2,245 L195.2,286.4" stroke="#5172d9" stroke-width="1.7" stroke-dasharray="3 1.8" marker-start="url(#ah-b)" marker-end="url(#ah-b)"/>
<path d="M241.9,245.3 L283.2,303.2" stroke="#5172d9" stroke-width="1.7" stroke-dasharray="3 1.8" marker-start="url(#ah-b)" marker-end="url(#ah-b)"/>
<path d="M386.2,244.4 L317,270.5" stroke="#5172d9" stroke-width="1.7" stroke-dasharray="3 1.8" marker-start="url(#ah-b)" marker-end="url(#ah-b)"/>
<path d="M386.6,246 L352.6,320" stroke="#5172d9" stroke-width="1.7" stroke-dasharray="3 1.8" marker-start="url(#ah-b)"/>
<path d="M403,244.4 L448.4,315.6" stroke="#5172d9" stroke-width="1.7" stroke-dasharray="3 1.8" marker-start="url(#ah-b)" marker-end="url(#ah-b)"/>
<path d="M523.3,262.7 L514.1,316.3" stroke="#5172d9" stroke-width="1.7" stroke-dasharray="3 1.8" marker-start="url(#ah-b)" marker-end="url(#ah-b)"/>
<path d="M544.9,261.7 L586.5,297" stroke="#5172d9" stroke-width="1.7" stroke-dasharray="3 1.8" marker-start="url(#ah-b)" marker-end="url(#ah-b)"/>
<path d="M241.2,243.6 L265.2,247.1" stroke="#6e2a26" stroke-width="0.9" marker-start="url(#ah-d)" marker-end="url(#ah-d)"/>
<path d="M402,242.9 L431.8,250.9" stroke="#6e2a26" stroke-width="1.1" stroke-dasharray="2.6 1.6" marker-start="url(#ah-d)" marker-end="url(#ah-d)"/>
<path d="M502.1,262 L524.8,260.5" stroke="#6e2a26" stroke-width="0.9" marker-start="url(#ah-d)" marker-end="url(#ah-d)"/>
</g>

<!-- ===== legend ===== -->
<g id="legend" fill="none">
  <rect x="96" y="371.2" width="184.6" height="53.3" stroke="#2486d6" stroke-width="1.3" stroke-dasharray="8.7 3.6"/>
  <rect x="306" y="371.3" width="170.1" height="52.6" stroke="#48b487" stroke-width="1.3" stroke-dasharray="12.9 6.9" stroke-dashoffset="3.4"/>
  <rect x="498.6" y="371.4" width="170.1" height="53" stroke="#444" stroke-width="0.9" stroke-dasharray="8.7 3.4"/>
</g>
<g id="legend-icons">
<use href="#drone" transform="translate(135.1 392.6) scale(0.78)"/>
<use href="#airship" transform="translate(189.3 391.2) scale(0.72)"/>
<use href="#sat-s" transform="translate(244.6 390.2) scale(0.62)"/>
<use href="#carr" transform="translate(344.3 395.2) scale(1.19)"/>
<use href="#wifi" transform="translate(341.9 388.6) scale(1.26)"/>
<use href="#truck" transform="translate(378.3 385.7) scale(1.13)"/>
<use href="#wifi" transform="translate(398.4 385.6) scale(1.26)"/>
<use href="#carb" transform="translate(431.1 386.2) scale(1.14)"/>
<use href="#wifi" transform="translate(440.9 385.8) scale(1.26)"/>
<use href="#tower" transform="translate(530.2 406.5) scale(0.69)"/>
<use href="#tower5g" transform="translate(561.8 408) scale(0.68)"/>
<use href="#srvb" transform="translate(592 378.8) scale(0.93)"/>
<use href="#srvk" transform="translate(630.1 380.9) scale(0.97)"/>
</g>
<text x="568.05" y="405.5" text-anchor="middle" style="font-family:'Liberation Sans',sans-serif;font-weight:bold;font-size:3.3px;fill:#fff;">5G</text>
<text class="leg" x="136.8" y="420.5">Drone</text>
<text class="leg" x="189.1" y="420.5">Airship</text>
<text class="leg" x="245.5" y="420.5">Satellite</text>
<text class="leg" x="389.4" y="420.5" style="font-size:10.92px">Car Equipped with Edge Device</text>
<text class="leg" x="545.3" y="420.5">Base Station</text>
<text class="leg" x="622.3" y="420.5">Edge Server</text>
</svg>
</body>
</html>
